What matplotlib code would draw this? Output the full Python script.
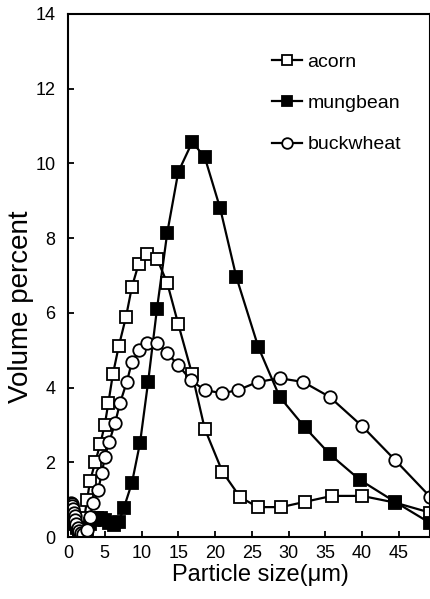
import numpy as np
import matplotlib
matplotlib.use("Agg")
import matplotlib.pyplot as plt

plt.rcParams['font.family'] = ['Liberation Sans', 'DejaVu Sans']

# particle size (um) and volume percent
acorn_x = [0.3, 0.4, 0.5, 0.6, 0.7, 0.8, 1.0, 1.2, 1.5, 1.8, 2.2, 2.6, 3.0, 3.7,
           4.4, 5.0, 5.5, 6.1, 6.9, 7.9, 8.7, 9.6, 10.7, 12.1, 13.5, 15.0, 16.9,
           18.6, 21.0, 23.4, 25.8, 29.0, 32.2, 35.9, 40.0, 44.5, 49.3]
acorn_y = [0.5, 0.62, 0.7, 0.68, 0.6, 0.5, 0.4, 0.28, 0.18, 0.12, 0.5, 1.0, 1.5, 2.0,
           2.5, 3.0, 3.6, 4.35, 5.1, 5.9, 6.7, 7.3, 7.57, 7.45, 6.8, 5.7, 4.35,
           2.9, 1.75, 1.07, 0.8, 0.8, 0.94, 1.1, 1.1, 0.92, 0.65]

mungbean_x = [0.3, 0.4, 0.5, 0.6, 0.7, 0.8, 1.0, 1.2, 1.5, 1.8, 2.2, 2.6, 3.0, 3.5,
              4.0, 4.5, 5.0, 5.6, 6.2, 6.9, 7.6, 8.7, 9.8, 10.9, 12.1, 13.5, 15.0,
              16.9, 18.6, 20.7, 22.9, 25.9, 28.8, 32.2, 35.6, 39.7, 44.5, 49.3]
mungbean_y = [0.45, 0.55, 0.6, 0.58, 0.52, 0.45, 0.35, 0.25, 0.15, 0.1, 0.1, 0.2, 0.35, 0.45,
              0.5, 0.5, 0.45, 0.38, 0.32, 0.4, 0.78, 1.45, 2.52, 4.15, 6.1, 8.14, 9.77,
              10.57, 10.17, 8.8, 6.96, 5.08, 3.75, 2.94, 2.22, 1.53, 0.94, 0.37]

buckwheat_x = [0.3, 0.4, 0.5, 0.6, 0.7, 0.8, 0.9, 1.0, 1.1, 1.3, 1.5, 1.8, 2.1, 2.6,
               3.0, 3.4, 4.1, 4.6, 5.0, 5.6, 6.4, 7.1, 8.0, 8.7, 9.7, 10.7, 12.1,
               13.5, 15.0, 16.7, 18.6, 21.0, 23.1, 25.8, 28.8, 32.0, 35.6, 40.0, 44.5, 49.3]
buckwheat_y = [0.85, 0.9, 0.88, 0.82, 0.74, 0.65, 0.55, 0.45, 0.36, 0.25, 0.17, 0.1, 0.08, 0.2,
               0.54, 0.9, 1.26, 1.7, 2.14, 2.54, 3.05, 3.6, 4.15, 4.69, 5.0, 5.19, 5.19,
               4.92, 4.6, 4.2, 3.93, 3.85, 3.93, 4.15, 4.25, 4.15, 3.75, 2.97, 2.06, 1.07]

x_ticks = [0, 5, 10, 15, 20, 25, 30, 35, 40, 45]
y_ticks = [0, 2, 4, 6, 8, 10, 12, 14]

fig = plt.figure(figsize=(4.31, 5.99), dpi=100)
ax = fig.add_axes([68 / 431, 62 / 599, 362 / 431, 523 / 599])

style = dict(color='black', linewidth=1.6, markersize=9, markeredgewidth=1.3,
             markeredgecolor='black')
ax.plot(acorn_x, acorn_y, marker='s', markerfacecolor='white', label='acorn', **style)
ax.plot(mungbean_x, mungbean_y, marker='s', markerfacecolor='black', label='mungbean', **style)
ax.plot(buckwheat_x, buckwheat_y, marker='o', markerfacecolor='white', label='buckwheat', **style)

ax.set_xlim(0, 49.25)
ax.set_ylim(0, 14)
ax.set_xticks(x_ticks)
ax.set_yticks(y_ticks)
ax.tick_params(direction='in', length=4, width=1.3, labelsize=13)
ax.tick_params(axis='y', pad=9)
ax.tick_params(axis='x', pad=6)
for s in ax.spines.values():
    s.set_linewidth(1.5)

ax.set_xlabel('Particle size(\u03bcm)', fontsize=17)
ax.xaxis.set_label_coords((260 - 68) / 362, -0.052)
ax.set_ylabel('Volume percent', fontsize=20)
ax.yaxis.set_label_coords(-0.095, 0.44)

leg = ax.legend(loc='upper left', bbox_to_anchor=(0.541, 0.94), frameon=False,
                fontsize=14, handlelength=1.55, handletextpad=0.3, labelspacing=1.22,
                markerscale=0.85, borderaxespad=0)

fig.savefig('out.png', dpi=100)
